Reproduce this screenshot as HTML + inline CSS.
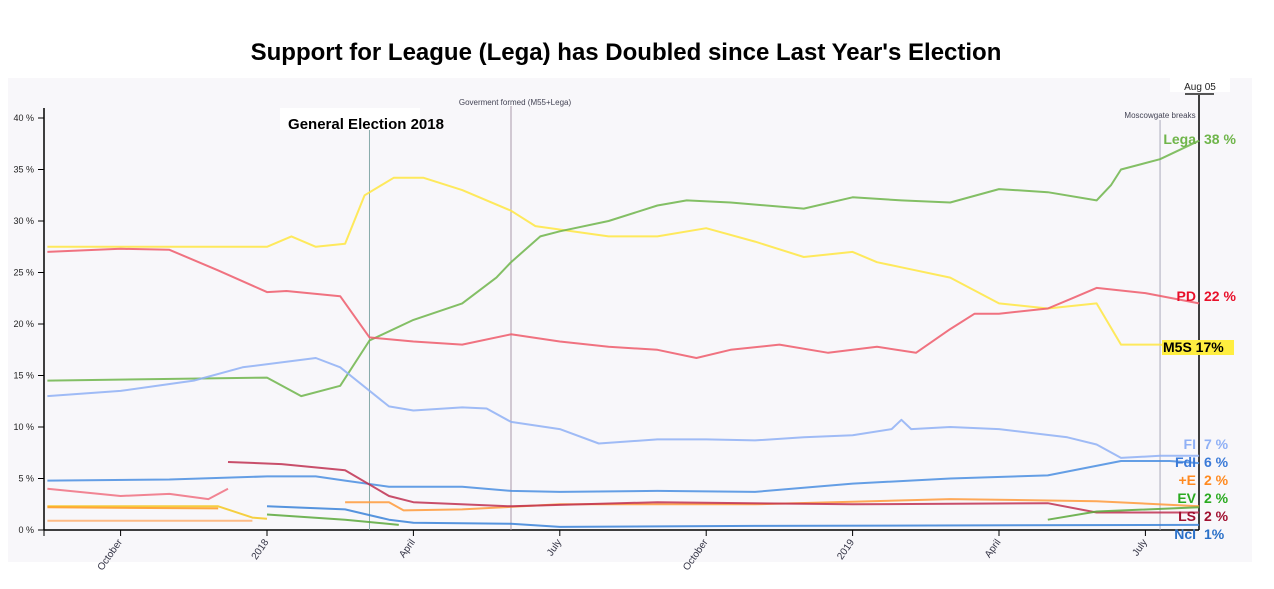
<!DOCTYPE html>
<html><head><meta charset="utf-8"><style>
body{margin:0;background:#fff;font-family:"Liberation Sans",sans-serif;}
svg text{font-family:"Liberation Sans",sans-serif;}
</style></head><body>
<svg width="1274" height="584" xmlns="http://www.w3.org/2000/svg">
<rect x="8" y="78" width="1244" height="484" fill="#f8f7fa"/>
<rect x="0" y="0" width="1274" height="78" fill="#fff"/>
<text x="626" y="60" text-anchor="middle" font-size="24" font-weight="bold" fill="#000">Support for League (Lega) has Doubled since Last Year's Election</text>
<g id="axes"></g>
<g id="lines"></g>
<g id="labels"></g>
</svg>
<script>
// months since Jan 1 2018
const yTicks=[0,5,10,15,20,25,30,35,40];
const xTickMonths=[-3,0,3,6,9,12,15,18];
const xTickLabels=['October','2018','April','July','October','2019','April','July'];
const seriesNames=['M5S','Lega','PD','FI','FdI','PlusE','LS','EV','NcI','PinkOther','OrangeFlat','YellowSmall','OrangeOld'];
const seriesColors=['#ffe640','#6fb54a','#ef5a6a','#8fb0f5','#4a8ee0','#ff9a3a','#c03050','#5aa83a','#3a82d8','#f07080','#ffb070','#f5c820','#ff9a20'];
const m_M5S=[-4.5,0,0.5,1,1.6,2.0,2.6,3.2,4,5,5.5,7,8,9,10,11,12,12.5,13,14,15,16,17,17.5,18.3,19.1];
const v_M5S=[27.5,27.5,28.5,27.5,27.8,32.5,34.2,34.2,33,31,29.5,28.5,28.5,29.3,28,26.5,27,26,25.5,24.5,22,21.5,22,18,18,17.5];
const m_Lega=[-4.5,0,0.7,1.5,2.1,3,4,4.7,5,5.6,6,7,8,8.6,9.5,11,12,13,14,15,16,17,17.3,17.5,18.3,19.1];
const v_Lega=[14.5,14.8,13,14,18.4,20.4,22,24.5,26,28.5,29,30,31.5,32,31.8,31.2,32.3,32,31.8,33.1,32.8,32,33.5,35,36,37.8];
const m_PD=[-4.5,-3,-2,-1,0,0.4,1.5,2.1,3,4,5,6,7,8,8.8,9.5,10.5,11.5,12.5,13.3,14,14.5,15,16,16.5,17,18,19.1];
const v_PD=[27,27.3,27.2,25.2,23.1,23.2,22.7,18.7,18.3,18,19,18.3,17.8,17.5,16.7,17.5,18,17.2,17.8,17.2,19.5,21,21,21.5,22.5,23.5,23,22];
const m_FI=[-4.5,-3,-1.5,-0.5,1,1.5,2.5,3,4,4.5,5,6,6.8,8,9,10,11,12,12.8,13,13.2,14,15,16.4,17,17.5,18.3,19.1];
const v_FI=[13,13.5,14.5,15.8,16.7,15.8,12,11.6,11.9,11.8,10.5,9.8,8.4,8.8,8.8,8.7,9,9.2,9.8,10.7,9.8,10,9.8,9,8.3,7,7.2,7.2];
const m_FdI=[-4.5,-2,0,1,1.6,2.5,4,5,6,8,10,12,14,16,17.5,18.5,19.1];
const v_FdI=[4.8,4.9,5.2,5.2,4.8,4.2,4.2,3.8,3.7,3.8,3.7,4.5,5,5.3,6.7,6.7,6.5];
const m_PlusE=[1.6,2.5,2.8,4,6,10,14,17,19.1];
const v_PlusE=[2.7,2.7,1.9,2,2.5,2.5,3,2.8,2.3];
const m_LS=[-0.8,0.3,1.6,2.5,3,5,8,12,16,17,19.1];
const v_LS=[6.6,6.4,5.8,3.3,2.7,2.3,2.7,2.5,2.6,1.7,1.7];
const m_EV=[0,1.6,2.7,13,16,17,19.1];
const v_EV=[1.5,1,0.5,null,1,1.8,2.2];
const m_NcI=[0,1.6,2.5,3,5,6,10,19.1];
const v_NcI=[2.3,2,1,0.7,0.6,0.3,0.4,0.5];
const m_PinkOther=[-4.5,-3,-2,-1.2,-0.8];
const v_PinkOther=[4,3.3,3.5,3,4];
const m_OrangeFlat=[-4.5,-0.3];
const v_OrangeFlat=[0.9,0.9];
const m_YellowSmall=[-4.5,-1,-0.3,0];
const v_YellowSmall=[2.3,2.3,1.2,1.1];
const m_OrangeOld=[-4.5,-1];
const v_OrangeOld=[2.2,2.1];
const labelNames=['Lega','PD','FI','FdI','+E','EV','LS','NcI'];
const labelValues=['38 %','22 %','7 %','6 %','2 %','2 %','2 %','1%'];
const NS='http://www.w3.org/2000/svg';
const X0=267,PXM=48.8,Y0=530,PXP=10.3;
const xs=m=>X0+m*PXM, ys=v=>Y0-v*PXP;
function mk(t,a,p){const e=document.createElementNS(NS,t);for(const k in a)e.setAttribute(k,a[k]);p.appendChild(e);return e;}
const ax=document.getElementById('axes');
const yAxis=mk('line',{x1:44,y1:108,x2:44,y2:530,stroke:'#000','stroke-width':1.5},ax);


const xAxis=mk('line',{x1:44,y1:530,x2:1199,y2:530,stroke:'#000','stroke-width':1.5},ax);


yTicks.forEach(v=>{
 mk('line',{x1:38,x2:44,y1:ys(v),y2:ys(v),stroke:'#000'},ax);
 const t=mk('text',{x:34,y:ys(v)+3,'text-anchor':'end','font-size':9,fill:'#222'},ax);
 t.textContent=v+' %';
 
 
});
mk('line',{x1:44,x2:44,y1:530,y2:536,stroke:'#000'},ax);
xTickMonths.forEach((m,i)=>{
 const x=xs(m);
 mk('line',{x1:x,x2:x,y1:530,y2:536,stroke:'#000'},ax);
 const t=mk('text',{x:x+2,y:542,'text-anchor':'end','font-size':10,fill:'#334','transform':`rotate(-55 ${x+2} 542)`},ax);
 t.textContent=xTickLabels[i];
 
 
});
const ev=[[2.1,130,'#8aa','election-line'],[5.0,106,'#a9a','government-line'],[18.3,120,'#aab','moscowgate-line']];
ev.forEach(e=>{const l=mk('line',{x1:xs(e[0]),x2:xs(e[0]),y1:e[1],y2:530,stroke:e[2],'stroke-width':1},ax);
 
 });
mk('rect',{x:280,y:108,width:140,height:22,fill:'#fff'},ax);
let t=mk('text',{x:366,y:129,'text-anchor':'middle','font-size':15,'font-weight':'bold',fill:'#000'},ax);t.textContent='General Election 2018';


t=mk('text',{x:515,y:105,'text-anchor':'middle','font-size':8,fill:'#445'},ax);t.textContent='Goverment formed (M55+Lega)';


t=mk('text',{x:1160,y:118,'text-anchor':'middle','font-size':8,fill:'#445'},ax);t.textContent='Moscowgate breaks';


const ra=mk('line',{x1:1199,x2:1199,y1:94,y2:530,stroke:'#000','stroke-width':1.5},ax);


mk('line',{x1:1185,x2:1214,y1:94,y2:94,stroke:'#555','stroke-width':2},ax);
mk('rect',{x:1170,y:78,width:60,height:14,fill:'#fff'},ax);
t=mk('text',{x:1200,y:90,'text-anchor':'middle','font-size':10,fill:'#222'},ax);t.textContent='Aug 05';


const lg=document.getElementById('lines');
const sm={M5S:[m_M5S,v_M5S],Lega:[m_Lega,v_Lega],PD:[m_PD,v_PD],FI:[m_FI,v_FI],FdI:[m_FdI,v_FdI],PlusE:[m_PlusE,v_PlusE],LS:[m_LS,v_LS],EV:[m_EV,v_EV],NcI:[m_NcI,v_NcI],PinkOther:[m_PinkOther,v_PinkOther],OrangeFlat:[m_OrangeFlat,v_OrangeFlat],YellowSmall:[m_YellowSmall,v_YellowSmall],OrangeOld:[m_OrangeOld,v_OrangeOld]};
seriesNames.forEach((n,i)=>{
 const [ms,vs]=sm[n];let d='',pen=false;
 ms.forEach((m,j)=>{if(vs[j]==null){pen=false;return;}d+=(pen?'L':'M')+xs(m).toFixed(1)+','+ys(vs[j]).toFixed(1);pen=true;});
 const p=mk('path',{d:d,fill:'none',stroke:seriesColors[i],'stroke-width':2,'stroke-opacity':0.85,'stroke-linejoin':'round'},lg);
 
 
});
const lb=document.getElementById('labels');
const lc=['#6fb54a','#e8102a','#8fb0f5','#3a7ad8','#ff8a20','#2aaa20','#a01030','#2a70c8'];
const ly=[144,301,449,467,485,503,521,539];
labelNames.forEach((s,i)=>{
 const a=mk('text',{x:1196,y:ly[i],'text-anchor':'end','font-size':14,'font-weight':'bold',fill:lc[i]},lb);
 a.textContent=s;
 
 
 const b=mk('text',{x:1204,y:ly[i],'text-anchor':'start','font-size':14,'font-weight':'bold',fill:lc[i]},lb);
 b.textContent=labelValues[i];
 
 
});
mk('rect',{x:1162,y:340,width:72,height:15,fill:'#ffee40'},lb);
const m5=mk('text',{x:1163,y:352,'font-size':14,'font-weight':'bold',fill:'#000'},lb);
m5.textContent='M5S 17%';


</script>
</body></html>
